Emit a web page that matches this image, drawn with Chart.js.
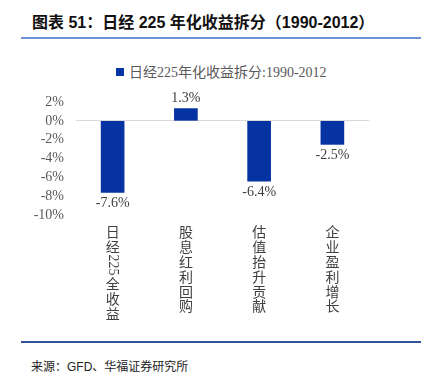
<!DOCTYPE html>
<html>
<head>
<meta charset="utf-8">
<script src="https://cdn.jsdelivr.net/npm/chart.js@4/dist/chart.umd.min.js"></script>
<style>
  html, body { margin: 0; padding: 0; background: #fff; }
  body { width: 428px; height: 379px; position: relative; overflow: hidden; }
  .titulo { position: absolute; left: 32px; top: 9px; font: bold 16px "Liberation Sans", "Noto Sans CJK SC", sans-serif; color: #111; white-space: nowrap; }
  .linea-top { position: absolute; left: 21px; top: 37px; width: 400px; height: 2px; background: #6a93d4; }
  .linea-bot { position: absolute; left: 21px; top: 341px; width: 400px; height: 2px; background: #2f5597; }
  .fuente { position: absolute; left: 31px; top: 357px; font: 12px "Liberation Sans", "Noto Sans CJK SC", sans-serif; color: #222; white-space: nowrap; }
  .leyenda { position: absolute; left: 116px; top: 61px; font: 14px "Liberation Serif", "Noto Sans CJK SC", serif; color: #595959; white-space: nowrap; }
  .leyenda i { display: inline-block; width: 8px; height: 8px; margin-right: 5px; vertical-align: 1px; }
  #wrap { position: absolute; left: 0; top: 50px; width: 428px; height: 290px; }
</style>
</head>
<body>
<div class="titulo">图表 51：日经 225 年化收益拆分（1990-2012）</div>
<div class="linea-top"></div>
<div class="leyenda" id="leyenda"></div>
<div id="wrap"><canvas id="chartNikkei"></canvas></div>
<div class="linea-bot"></div>
<div class="fuente">来源：GFD、华福证券研究所</div>

<script>
// ===== Datos =====
const categorias = ['日经225全收益', '股息红利回购', '估值抬升贡献', '企业盈利增长'];
const valores = [-7.6, 1.3, -6.4, -2.5];
const serieNombre = '日经225年化收益拆分:1990-2012';
const ticksY = [2, 0, -2, -4, -6, -8, -10];
const colorBarra = '#0533a1';

// leyenda en html
document.getElementById('leyenda').innerHTML = `<i style="background:${colorBarra}"></i>${serieNombre}`;

// etiquetas de valor sobre/bajo las barras
const etiquetasValor = {
    id: 'etiquetasValor',
    afterDatasetsDraw(chart) {
        const ctx = chart.ctx;
        const meta = chart.getDatasetMeta(0);
        ctx.save();
        ctx.font = '14px "Liberation Serif", serif';
        ctx.fillStyle = '#404040';
        ctx.textAlign = 'center';
        meta.data.forEach((bar, i) => {
            const v = valores[i];
            const txt = v.toFixed(1) + '%';
            if (v >= 0) {
                ctx.textBaseline = 'bottom';
                ctx.fillText(txt, bar.x, bar.y - 3);
            } else {
                ctx.textBaseline = 'top';
                ctx.fillText(txt, bar.x, bar.y + 4);
            }
        });
        ctx.restore();
    }
};

// etiquetas del eje x en vertical (un caracter por linea, numeros girados)
const etiquetasVerticales = {
    id: 'etiquetasVerticales',
    afterDraw(chart) {
        const ctx = chart.ctx;
        const xs = chart.scales.x;
        const paso = 14.8;
        ctx.save();
        ctx.fillStyle = '#404040';
        categorias.forEach((cat, i) => {
            const x = xs.getPixelForValue(i);
            let y = chart.chartArea.bottom + 17;
            const partes = cat.match(/[0-9A-Za-z]+|./g) || [];
            partes.forEach(p => {
                if (/^[0-9A-Za-z]+$/.test(p)) {
                    ctx.font = '14px "Liberation Serif", serif';
                    const w = ctx.measureText(p).width;
                    ctx.save();
                    ctx.translate(x, y - 7);
                    ctx.rotate(Math.PI / 2);
                    ctx.textAlign = 'left';
                    ctx.textBaseline = 'middle';
                    ctx.fillText(p, 0, 0);
                    ctx.restore();
                    y += w + 1;
                } else {
                    ctx.font = '14px "Noto Sans CJK SC", sans-serif';
                    ctx.textAlign = 'center';
                    ctx.textBaseline = 'middle';
                    ctx.fillText(p, x, y);
                    y += paso;
                }
            });
        });
        ctx.restore();
    }
};

const ctx = document.getElementById('chartNikkei').getContext('2d');
new Chart(ctx, {
    type: 'bar',
    data: {
        labels: categorias,
        datasets: [{
            label: serieNombre,
            data: valores,
            backgroundColor: colorBarra,
            borderWidth: 0,
            barThickness: 23
        }]
    },
    options: {
        responsive: true,
        maintainAspectRatio: false,
        animation: false,
        layout: { padding: { top: 52, bottom: 125, left: 0, right: 59 } },
        plugins: {
            legend: { display: false },
            tooltip: { enabled: false }
        },
        scales: {
            x: {
                display: false
            },
            y: {
                min: -10,
                max: 2,
                afterFit: s => { s.width = 76; },
                afterBuildTicks: s => { s.ticks = ticksY.map(v => ({ value: v })); },
                ticks: {
                    autoSkip: false,
                    padding: 12,
                    color: '#595959',
                    font: { family: '"Liberation Serif", serif', size: 14 },
                    callback: v => v + '%'
                },
                grid: {
                    drawTicks: false,
                    color: c => (c.tick && c.tick.value === 0) ? '#d9d9d9' : 'rgba(0,0,0,0)'
                },
                border: { display: false }
            }
        }
    },
    plugins: [etiquetasValor, etiquetasVerticales]
});
</script>
</body>
</html>
